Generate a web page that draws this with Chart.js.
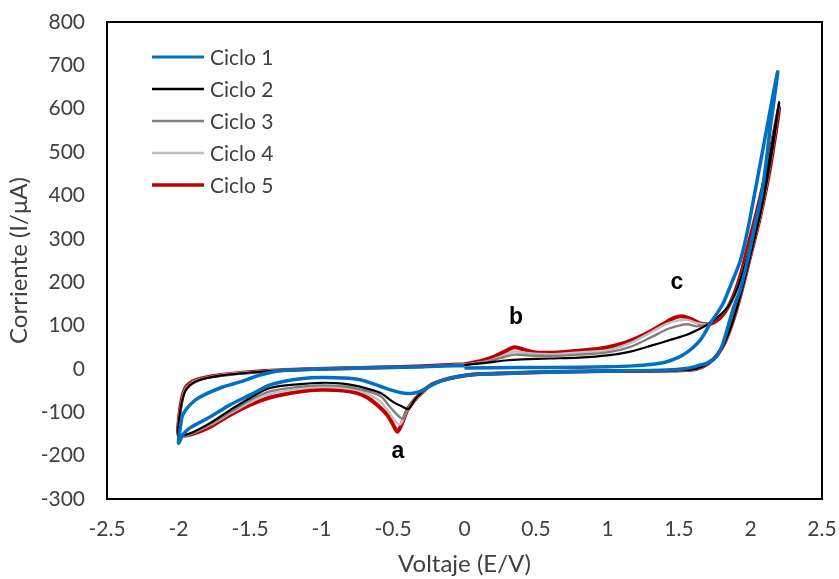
<!DOCTYPE html>
<html>
<head>
<meta charset="utf-8">
<script src="https://cdn.jsdelivr.net/npm/chart.js@4.4.0/dist/chart.umd.min.js"></script>
<style>
  html, body { margin: 0; padding: 0; background: #fff; }
  #wrap { width: 839px; height: 579px; }
</style>
</head>
<body>
<div id="wrap"><canvas id="cv" width="839" height="579"></canvas></div>
<script>
// ===== DATA (potential in V, current in uA), each cycle traced in scan order ===== //
const cycle1V = [0.00, 0.40, 0.80, 1.00, 1.18, 1.30, 1.41, 1.50, 1.55, 1.60, 1.65, 1.69, 1.72, 1.76, 1.81, 1.87, 1.93, 1.98, 2.03, 2.10, 2.19,
  2.14, 2.08, 2.03, 1.98, 1.93, 1.88, 1.83, 1.80, 1.76, 1.70, 1.65, 1.55, 1.40, 1.00, 0.60, 0.30, 0.10,
  -0.05, -0.15, -0.22, -0.27, -0.31, -0.36, -0.42, -0.50, -0.59, -0.73, -0.85, -1.00, -1.13, -1.25, -1.36, -1.50, -1.64, -1.78, -1.92, -1.97, -2.00,
  -1.985, -1.97, -1.92, -1.85, -1.71, -1.57, -1.43, -1.29, -1.00, -0.60, -0.30, 0.00];
const cycle1I = [2, 3, 4, 5, 7, 10, 16, 27, 37, 50, 67, 88, 106, 125, 152, 200, 251, 320, 406, 530, 685,
  560, 406, 330, 251, 185, 140, 83, 52, 28, 14, 9, 1, -3, -5, -7, -10, -12,
  -18, -26, -36, -45, -52, -56, -56, -50, -40, -25, -21, -20, -22, -28, -37, -60, -83, -111, -136, -152, -171,
  -130, -106, -83, -65, -44, -30, -14, -4, 0, 3, 5, 8];

const cycle2V = [0.00, 0.15, 0.30, 0.40, 0.60, 0.80, 1.00, 1.16, 1.30, 1.45, 1.55, 1.65, 1.72, 1.78, 1.84, 1.90, 1.95, 2.00, 2.06, 2.13, 2.20,
  2.15, 2.08, 2.00, 1.95, 1.90, 1.85, 1.80, 1.74, 1.67, 1.58, 1.40, 1.00, 0.60, 0.30, 0.10,
  -0.05, -0.15, -0.24, -0.30, -0.35, -0.39, -0.44, -0.50, -0.59, -0.73, -0.85, -1.00, -1.15, -1.36, -1.50, -1.64, -1.78, -1.90, -1.96, -2.00,
  -1.995, -1.98, -1.955, -1.92, -1.87, -1.80, -1.70, -1.55, -1.40, -1.20, -0.90, -0.60, -0.30, 0.00];
const cycle2I = [9, 14, 20, 22, 24, 26, 31, 40, 53, 68, 78, 93, 106, 122, 142, 180, 228, 285, 370, 480, 615,
  500, 375, 262, 195, 135, 85, 48, 22, 6, -2, -4, -5, -7, -10, -12,
  -18, -26, -38, -55, -72, -92, -86, -76, -55, -41, -34, -32, -35, -44, -67, -95, -125, -146, -153, -155,
  -115, -82, -53, -38, -28, -21, -15, -10, -6, -2, 1, 3, 5, 9];

const cycle3V = [0.00, 0.15, 0.25, 0.35, 0.45, 0.60, 0.80, 1.00, 1.16, 1.30, 1.42, 1.50, 1.56, 1.63, 1.70, 1.78, 1.84, 1.90, 1.95, 2.00, 2.06, 2.13, 2.20,
  2.15, 2.08, 2.00, 1.95, 1.90, 1.85, 1.80, 1.74, 1.67, 1.58, 1.40, 1.00, 0.60, 0.30, 0.10,
  -0.05, -0.15, -0.24, -0.30, -0.35, -0.40, -0.43, -0.47, -0.52, -0.59, -0.73, -0.85, -1.00, -1.15, -1.36, -1.50, -1.64, -1.78, -1.90, -1.96, -2.00,
  -1.995, -1.98, -1.955, -1.92, -1.87, -1.80, -1.70, -1.55, -1.40, -1.20, -0.90, -0.60, -0.30, 0.00];
const cycle3I = [10, 16, 25, 33, 31, 30, 33, 38, 51, 72, 92, 100, 103, 98, 104, 122, 142, 180, 228, 285, 370, 480, 613,
  498, 372, 262, 195, 135, 85, 48, 22, 6, -2, -4, -5, -7, -10, -12,
  -18, -26, -38, -55, -72, -95, -115, -106, -88, -62, -47, -40, -38, -41, -52, -72, -100, -128, -148, -155, -157,
  -113, -80, -50, -36, -27, -20, -15, -10, -5, -2, 1, 3, 5, 10];

const cycle4V = [0.00, 0.15, 0.25, 0.35, 0.45, 0.60, 0.80, 1.00, 1.16, 1.30, 1.42, 1.50, 1.56, 1.62, 1.70, 1.78, 1.84, 1.90, 1.95, 2.00, 2.06, 2.13, 2.20,
  2.15, 2.08, 2.00, 1.95, 1.90, 1.85, 1.80, 1.74, 1.67, 1.58, 1.40, 1.00, 0.60, 0.30, 0.10,
  -0.05, -0.15, -0.24, -0.30, -0.35, -0.40, -0.45, -0.49, -0.54, -0.60, -0.73, -0.85, -1.00, -1.15, -1.36, -1.50, -1.64, -1.78, -1.90, -1.96, -2.00,
  -1.995, -1.98, -1.955, -1.92, -1.87, -1.80, -1.70, -1.55, -1.40, -1.20, -0.90, -0.60, -0.30, 0.00];
const cycle4I = [10, 17, 28, 40, 36, 34, 38, 43, 60, 84, 105, 112, 113, 106, 104, 122, 142, 180, 228, 285, 370, 480, 613,
  498, 372, 262, 195, 135, 85, 48, 22, 6, -2, -4, -5, -7, -10, -12,
  -18, -26, -38, -55, -72, -95, -128, -118, -95, -72, -51, -44, -42, -46, -58, -77, -103, -130, -148, -155, -157,
  -112, -78, -48, -35, -26, -20, -14, -9, -5, -2, 1, 3, 5, 10];

const cycle5V = [0.00, 0.10, 0.20, 0.28, 0.35, 0.42, 0.50, 0.65, 0.80, 0.95, 1.10, 1.25, 1.38, 1.47, 1.53, 1.59, 1.65, 1.72, 1.80, 1.87, 1.93, 1.98, 2.05, 2.12, 2.20,
  2.14, 2.07, 2.00, 1.95, 1.90, 1.85, 1.80, 1.74, 1.67, 1.58, 1.40, 1.00, 0.60, 0.30, 0.10,
  -0.05, -0.15, -0.24, -0.30, -0.35, -0.40, -0.44, -0.47, -0.50, -0.54, -0.61, -0.68, -0.75, -0.85, -1.00, -1.15, -1.36, -1.50, -1.64, -1.78, -1.90, -1.96, -2.00,
  -1.995, -1.98, -1.955, -1.92, -1.87, -1.80, -1.70, -1.55, -1.40, -1.20, -0.90, -0.60, -0.30, 0.00];
const cycle5I = [11, 17, 27, 40, 50, 44, 38, 38, 42, 47, 58, 78, 102, 118, 121, 114, 105, 104, 122, 160, 215, 280, 370, 470, 602,
  470, 355, 262, 195, 135, 85, 48, 22, 6, -2, -4, -5, -7, -10, -12,
  -18, -26, -38, -55, -72, -95, -128, -145, -128, -106, -83, -66, -56, -50, -48, -52, -66, -83, -106, -134, -150, -154, -152,
  -110, -75, -46, -33, -25, -19, -14, -9, -5, -2, 1, 3, 6, 11];

const cycleNames = ['Ciclo 1', 'Ciclo 2', 'Ciclo 3', 'Ciclo 4', 'Ciclo 5'];

// peak labels, placed in data units
const peakNames = ['a', 'b', 'c'];
const peakV = [-0.465, 0.36, 1.485];
const peakI = [-191, 118, 198];

const xTicks = [-2.5, -2, -1.5, -1, -0.5, 0, 0.5, 1, 1.5, 2, 2.5];
const yTicks = [-300, -200, -100, 0, 100, 200, 300, 400, 500, 600, 700, 800];

// ===== HELPERS ===== //
const toPoints = (xs, ys) => xs.map((x, i) => ({ x, y: ys[i] }));

const styles = [
  { color: '#0070C0', width: 3.5, legend: 3.2 },
  { color: '#000000', width: 2.2, legend: 2.5 },
  { color: '#7F7F7F', width: 2.4, legend: 2.5 },
  { color: '#BFBFBF', width: 2.4, legend: 2.5 },
  { color: '#C00000', width: 4, legend: 3.5 }
];

const series = [
  toPoints(cycle1V, cycle1I),
  toPoints(cycle2V, cycle2I),
  toPoints(cycle3V, cycle3I),
  toPoints(cycle4V, cycle4I),
  toPoints(cycle5V, cycle5I)
];

const datasets = series.map((data, i) => ({
  label: cycleNames[i],
  data,
  showLine: true,
  borderColor: styles[i].color,
  borderWidth: styles[i].width,
  legendWidth: styles[i].legend,
  pointRadius: 0,
  tension: 0.3,
  fill: false
}));

// ===== PLUGINS ===== //
const framePlugin = {
  id: 'frame',
  afterDatasetsDraw(chart) {
    const { ctx, chartArea: a } = chart;
    ctx.save();
    ctx.strokeStyle = '#000';
    ctx.lineWidth = 2;
    ctx.strokeRect(a.left, a.top, a.right - a.left, a.bottom - a.top);
    ctx.restore();
  }
};

const boxLegend = {
  id: 'boxLegend',
  afterDraw(chart) {
    const { ctx, chartArea: a } = chart;
    ctx.save();
    ctx.font = '21px Lato';
    ctx.textBaseline = 'middle';
    chart.data.datasets.forEach((ds, i) => {
      const y = a.top + 35 + i * 32;
      ctx.strokeStyle = ds.borderColor;
      ctx.lineWidth = ds.legendWidth;
      ctx.beginPath();
      ctx.moveTo(a.left + 45, y);
      ctx.lineTo(a.left + 97, y);
      ctx.stroke();
      ctx.fillStyle = '#404040';
      ctx.fillText(ds.label, a.left + 103, y + 1);
    });
    ctx.restore();
  }
};

const peakLabels = {
  id: 'peakLabels',
  afterDraw(chart) {
    const { ctx, scales } = chart;
    ctx.save();
    ctx.font = 'bold 23px "Liberation Sans", Arial';
    ctx.fillStyle = '#000';
    ctx.textAlign = 'center';
    ctx.textBaseline = 'middle';
    peakNames.forEach((name, i) => {
      ctx.fillText(name, scales.x.getPixelForValue(peakV[i]), scales.y.getPixelForValue(peakI[i]));
    });
    ctx.restore();
  }
};

// ===== CHART ===== //
Chart.defaults.font.family = 'Lato';
Chart.defaults.color = '#404040';

new Chart(document.getElementById('cv'), {
  type: 'scatter',
  data: { datasets },
  options: {
    responsive: false,
    animation: false,
    layout: { padding: { top: 22, right: 17, left: 0, bottom: 0 } },
    plugins: { legend: { display: false }, tooltip: { enabled: false } },
    scales: {
      x: {
        type: 'linear', min: -2.5, max: 2.5,
        afterBuildTicks: s => { s.ticks = xTicks.map(v => ({ value: v })); },
        afterFit: s => { s.height = 80; s.paddingLeft = 0; s.paddingRight = 0; },
        grid: { display: false, drawTicks: false },
        border: { display: false },
        ticks: { font: { size: 21 }, padding: 18, maxRotation: 0, callback: v => String(v) },
        title: { display: true, text: 'Voltaje (E/V)', font: { size: 24 }, padding: { top: 0, bottom: 0 } }
      },
      y: {
        type: 'linear', min: -300, max: 800,
        afterBuildTicks: s => { s.ticks = yTicks.map(v => ({ value: v })); },
        afterFit: s => { s.width = 107; s.paddingTop = 0; s.paddingBottom = 0; },
        grid: { display: false, drawTicks: false },
        border: { display: false },
        ticks: { font: { size: 21 }, padding: 22, callback: v => String(v) },
        title: { display: true, text: 'Corriente (I/μA)', font: { size: 24 }, padding: { top: 5, bottom: 0 } }
      }
    }
  },
  plugins: [framePlugin, boxLegend, peakLabels]
});
</script>
</body>
</html>
